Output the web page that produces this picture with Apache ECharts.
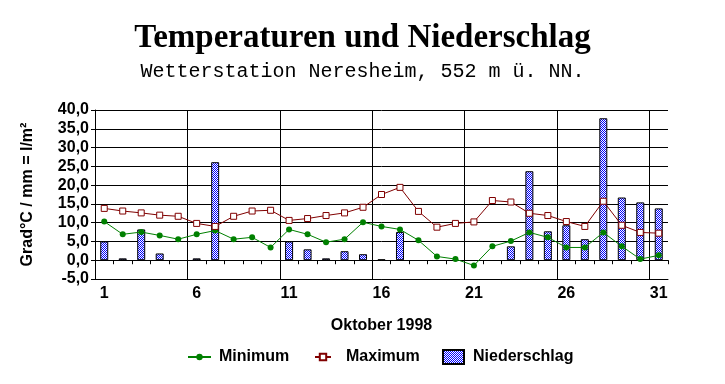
<!DOCTYPE html>
<html><head><meta charset="utf-8">
<script src="https://cdn.jsdelivr.net/npm/echarts@6/dist/echarts.min.js"></script>
<style>html,body{margin:0;padding:0;background:#fff}#c{width:725px;height:384px}</style>
</head><body><div id="c"></div>
<script>
const days = Array.from({length:31},(_,i)=>String(i+1));
const minTemp = [10.3, 6.9, 7.5, 6.6, 5.6, 6.9, 7.9, 5.6, 6.1, 3.4, 8.2, 6.9, 4.8, 5.6, 10.1, 9.0, 8.2, 5.3, 1.0, 0.3, -1.4, 3.7, 5.1, 7.4, 6.1, 3.4, 3.4, 7.4, 3.7, 0.3, 1.3];
const maxTemp = [13.8, 13.1, 12.6, 12.0, 11.7, 9.8, 9.0, 11.7, 13.1, 13.3, 10.6, 11.1, 11.9, 12.6, 14.1, 17.5, 19.4, 13.0, 8.8, 9.8, 10.2, 15.9, 15.5, 12.5, 11.9, 10.3, 9.0, 15.7, 9.3, 7.4, 7.2];
const precip = [5.0, 0.5, 8.2, 1.8, null, 0.5, 26.1, null, null, null, 5.0, 2.9, 0.5, 2.4, 1.6, 0.2, 7.5, null, null, null, null, null, 3.7, 23.7, 7.7, 9.3, 5.6, 37.8, 16.7, 15.4, 13.8];
const titleText = 'Temperaturen und Niederschlag';
const subtitleText = 'Wetterstation Neresheim, 552 m ü. NN.';
const xName = 'Oktober 1998';
const yName = 'Grad°C / mm = l/m²';

const pc = document.createElement('canvas');
pc.width = 2; pc.height = 2;
const px = pc.getContext('2d');
px.fillStyle = '#ffffff'; px.fillRect(0,0,2,2);
px.fillStyle = '#0000ff'; px.fillRect(0,0,1,1); px.fillRect(1,1,1,1);

const SANS = "'Liberation Sans', Arial, sans-serif";
const legendText = {fontFamily: SANS, fontWeight: 'bold', fontSize: 16, color: '#000'};
const vColors = ['#000','#000','#000','#000','#000','#000','#000','rgba(0,0,0,0)'];
const chart = echarts.init(document.getElementById('c'), null, {renderer:'canvas'});
chart.setOption({
  animation: false,
  backgroundColor: '#ffffff',
  title: [
    {text: titleText, left: 'center', top: 17,
     textStyle: {fontFamily: "'Liberation Serif', 'Times New Roman', serif", fontWeight: 'bold', fontSize: 33, color: '#000'}},
    {text: subtitleText, left: 'center', top: 57,
     textStyle: {fontFamily: "'Liberation Mono', 'Courier New', monospace", fontWeight: 'normal', fontSize: 20, color: '#000'}}
  ],
  legend: [
    {left: 187, top: 349, padding: 0, itemWidth: 23, itemHeight: 8, itemGap: 0,
     textStyle: Object.assign({padding: [0,0,0,3]}, legendText), data: [{name: 'Minimum'}]},
    {left: 314, top: 349, padding: 0, itemWidth: 16, itemHeight: 8, itemGap: 0,
     textStyle: Object.assign({padding: [0,0,0,10]}, legendText), data: [{name: 'Maximum'}]},
    {left: 442, top: 349, padding: 0, itemWidth: 21, itemHeight: 14, itemGap: 0,
     textStyle: Object.assign({padding: [0,0,0,4]}, legendText), data: [{name: 'Niederschlag', icon: 'rect'}]}
  ],
  grid: {left: 95, right: 57, top: 110, bottom: 105, containLabel: false},
  xAxis: [
    {type: 'category', data: days, position: 'bottom', boundaryGap: true,
     axisLine: {show: true, onZero: false, lineStyle: {color: '#000', width: 1}},
     axisTick: {show: false},
     splitLine: {show: true, interval: 4, lineStyle: {color: vColors, width: 1}},
     axisLabel: {interval: 4, margin: 7, fontFamily: SANS, fontWeight: 'bold', fontSize: 16, color: '#000'},
     name: xName, nameLocation: 'middle', nameGap: 39,
     nameTextStyle: {fontFamily: SANS, fontWeight: 'bold', fontSize: 16, color: '#000'}},
    {type: 'category', data: days, position: 'top', boundaryGap: true,
     axisLine: {show: true, onZero: true, lineStyle: {color: '#000', width: 1}},
     axisTick: {show: true, inside: true, interval: 0, length: 4, lineStyle: {color: '#000'}},
     axisLabel: {show: false}, splitLine: {show: false}}
  ],
  yAxis: {
    type: 'value', min: -5, max: 40, interval: 5,
    axisLine: {show: true, lineStyle: {color: '#000', width: 1}},
    axisTick: {show: true, length: 4, lineStyle: {color: '#000'}},
    splitLine: {show: true, lineStyle: {color: '#000', width: 1}},
    axisLabel: {margin: 6, fontFamily: SANS, fontWeight: 'bold', fontSize: 16, color: '#000',
      formatter: v => v.toFixed(1).replace('.', ',')},
    name: yName, nameLocation: 'middle', nameGap: 59, nameRotate: 90,
    nameTextStyle: {fontFamily: SANS, fontWeight: 'bold', fontSize: 16, color: '#000'}
  },
  series: [
    {name: 'Niederschlag', type: 'bar', xAxisIndex: 0, data: precip, barWidth: 8, z: 2,
     itemStyle: {color: {image: pc, repeat: 'repeat'}, borderColor: '#000', borderWidth: 1}},
    {name: 'Minimum', type: 'line', xAxisIndex: 0, data: minTemp, symbol: 'circle', symbolSize: 6, z: 3,
     lineStyle: {color: '#008000', width: 1}, itemStyle: {color: '#008000'}},
    {name: 'Maximum', type: 'line', xAxisIndex: 0, data: maxTemp, symbol: 'rect', symbolSize: 6, z: 4,
     lineStyle: {color: '#800000', width: 1}, itemStyle: {color: '#ffffff', borderColor: '#800000', borderWidth: 1}}
  ]
});
</script></body></html>
